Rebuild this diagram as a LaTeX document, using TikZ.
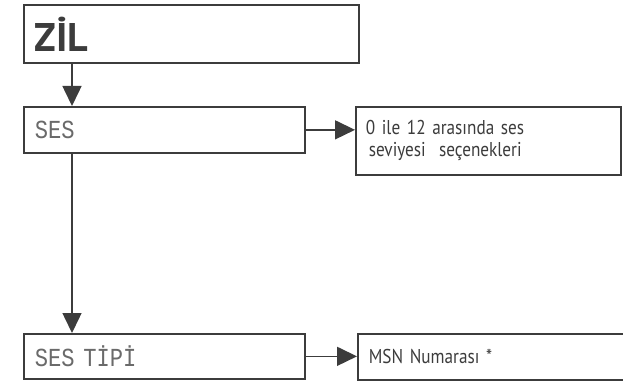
\documentclass[tikz,border=0pt]{standalone}
\usepackage{fontspec}
\setmainfont{PT Sans}
\newfontfamily\lcdfont[FakeStretch=0.85]{Liberation Mono}
\newfontfamily\optfont[FakeStretch=0.86]{PT Sans}
\usetikzlibrary{arrows.meta}
\definecolor{linec}{HTML}{3C3C3C}
\definecolor{lcdc}{HTML}{6A6A6A}
\tikzset{
  box/.style={draw=linec, line width=1.7pt, fill=white, anchor=north west,
    inner xsep=11pt, inner ysep=0pt, align=left},
  lcd/.style={font=\lcdfont\fontsize{26}{28}\selectfont, text=lcdc},
  opt/.style={font=\optfont\fontsize{20}{22}\selectfont, text=linec},
  arr/.style={draw=linec, line width=1.5pt, -{Triangle[length=20pt,width=19pt]}}
}
\begin{document}
\begin{tikzpicture}[x=1pt,y=-1pt]
\clip (0,0) rectangle (623,382);
\fill[white] (0,0) rectangle (623,382);
\node[box, minimum width=335pt, minimum height=58pt, text width=313pt,
  font=\bfseries\fontsize{40}{40}\selectfont, text=linec] (zil) at (23,4) {ZİL};
\node[box, lcd, minimum width=281pt, minimum height=46pt, text width=259pt] (ses) at (23,106) {SES};
\node[box, opt, minimum width=265pt, minimum height=68pt, text width=245pt, inner xsep=10pt] (vol) at (355,106) {0 ile 12 arasında ses\\\hspace*{3pt}seviyesi\ \ seçenekleri};
\node[box, lcd, minimum width=281pt, minimum height=45pt, text width=259pt] (tip) at (23,333) {SES TİPİ};
\node[box, opt, minimum width=280pt, minimum height=46pt, text width=258pt] (msn) at (357,333) {MSN Numarası *};
\draw[arr] ([xshift=49pt]zil.south west) -- ([xshift=49pt]ses.north west);
\draw[arr] ([xshift=49pt]ses.south west) -- ([xshift=49pt]tip.north west);
\draw[arr] (ses.east) -- (ses.east -| vol.west);
\draw[arr] (tip.east) -- (tip.east -| msn.west);
\end{tikzpicture}
\end{document}
